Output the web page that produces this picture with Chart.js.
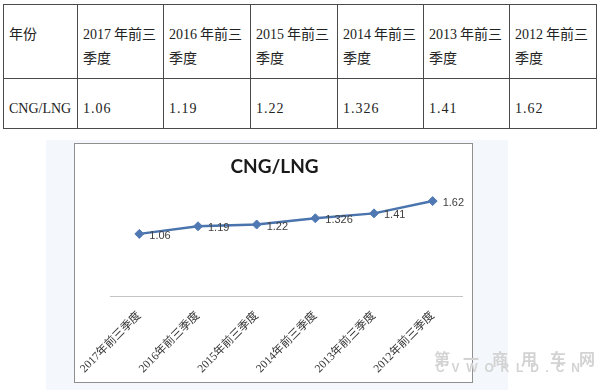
<!DOCTYPE html>
<html>
<head>
<meta charset="utf-8">
<script src="https://cdn.jsdelivr.net/npm/chart.js@4/dist/chart.umd.min.js"></script>
<style>
  html, body { margin:0; padding:0; background:#ffffff; }
  body { width:600px; height:390px; position:relative; overflow:hidden; }
  .cell { position:absolute; box-sizing:border-box; font-family:"Liberation Serif","Noto Sans CJK SC",serif; font-size:14px; line-height:24px; color:#222; padding:19px 0 0 6px; }
  .hl, .vl { position:absolute; background:#4a4a4a; }
  #tint { position:absolute; left:46px; top:140px; width:462px; height:250px; background:#f4f7fb; }
  #box { position:absolute; left:74px; top:143px; width:399px; height:240px; box-sizing:border-box; border:1px solid #8f8f8f; background:#fff; }
  #c { position:absolute; left:1px; top:1px; }
  .wm { position:absolute; color:#d3d3d3; white-space:nowrap; width:200px; }
</style>
</head>
<body>
<div id="tint"></div>
<div id="tbl"></div>
<div id="box"><canvas id="c" width="397" height="238"></canvas></div>
<div class="wm" style="left:434px;top:346px;font-size:16px;letter-spacing:13px;font-weight:bold;font-family:'Noto Sans CJK SC',sans-serif;">第一商用车网</div>
<div class="wm" style="left:436px;top:361px;font-size:12px;font-weight:bold;letter-spacing:6.8px;font-family:'Liberation Sans',sans-serif;">CVWORLD.CN</div>
<script>
// ---- data ----
const headerLabel = "年份";
const seriesName = "CNG/LNG";
const yearLabels = ["2017", "2016", "2015", "2014", "2013", "2012"];
const periodSuffix1 = "年前三";
const periodSuffix2 = "季度";
const categories = ["2017年前三季度", "2016年前三季度", "2015年前三季度", "2014年前三季度", "2013年前三季度", "2012年前三季度"];
const values = [1.06, 1.19, 1.22, 1.326, 1.41, 1.62];
const valueTexts = ["1.06", "1.19", "1.22", "1.326", "1.41", "1.62"];

// ---- table ----
const colX = [3, 77, 163, 250, 337, 423, 509, 596];
const rowY = [4, 78, 128];
const tbl = document.getElementById('tbl');
function addLine(cls, l, t, w, h) {
  const d = document.createElement('div');
  d.className = cls; d.style.left = l + 'px'; d.style.top = t + 'px';
  d.style.width = w + 'px'; d.style.height = h + 'px'; tbl.appendChild(d);
}
rowY.forEach(y => addLine('hl', colX[0], y, colX[colX.length-1] - colX[0] + 1, 1));
colX.forEach(x => addLine('vl', x, rowY[0], 1, rowY[2] - rowY[0] + 1));
function addCell(col, row, html) {
  const d = document.createElement('div');
  d.className = 'cell';
  d.style.left = colX[col] + 'px'; d.style.top = rowY[row] + 'px';
  d.style.width = (colX[col+1] - colX[col]) + 'px';
  d.innerHTML = html; tbl.appendChild(d);
}
addCell(0, 0, headerLabel);
addCell(0, 1, seriesName);
yearLabels.forEach((y, i) => {
  addCell(i + 1, 0, '<span style="margin-right:3px">' + y + '</span>' + periodSuffix1 + '<br>' + periodSuffix2);
  addCell(i + 1, 1, '<span style="letter-spacing:1px">' + valueTexts[i] + '</span>');
});

// ---- chart ----
const valueLabelPlugin = {
  id: 'valueLabels',
  afterDatasetsDraw(chart) {
    const ctx = chart.ctx;
    const meta = chart.getDatasetMeta(0);
    ctx.save();
    ctx.font = '11px "Liberation Sans", sans-serif';
    ctx.fillStyle = '#404040';
    ctx.textAlign = 'left';
    ctx.textBaseline = 'middle';
    meta.data.forEach((pt, i) => {
      ctx.fillText(valueTexts[i], pt.x + 10, pt.y + 2);
    });
    ctx.restore();
  }
};

new Chart(document.getElementById('c'), {
  type: 'line',
  data: {
    labels: categories,
    datasets: [{
      label: seriesName,
      data: values,
      borderColor: '#4a74ad',
      borderWidth: 2.5,
      backgroundColor: '#4f79b5',
      pointStyle: 'rectRot',
      pointRadius: 4.5,
      pointBackgroundColor: '#5079b3',
      pointBorderColor: '#5079b3',
      pointBorderWidth: 1,
      tension: 0,
      fill: false
    }]
  },
  options: {
    responsive: false,
    animation: false,
    layout: { padding: { left: 0, right: 0, top: 0, bottom: 0 } },
    plugins: {
      legend: { display: false },
      tooltip: { enabled: false },
      title: {
        display: true,
        text: seriesName,
        color: '#1a1a1a',
        font: { family: 'Lato, "Liberation Sans", sans-serif', size: 19, weight: 'bold' },
        padding: { top: 10, bottom: 1 }
      }
    },
    scales: {
      x: {
        offset: true,
        grid: { display: false, drawTicks: false },
        border: { display: true, color: '#c4c4c4', width: 1 },
        ticks: {
          minRotation: 45, maxRotation: 45, padding: 13,
          color: '#333333',
          font: { family: '"Liberation Serif", "Noto Sans CJK SC", serif', size: 11.5 }
        },
        afterFit(s) { s.height = 87; s.paddingLeft = 0; s.paddingRight = 0; }
      },
      y: {
        min: 0, max: 2,
        grid: { display: false, drawTicks: false },
        border: { display: false },
        ticks: { display: false },
        afterFit(s) { s.width = 34; }
      },
      yR: {
        position: 'right',
        min: 0, max: 2,
        grid: { display: false, drawTicks: false },
        border: { display: false },
        ticks: { display: false },
        afterFit(s) { s.width = 11; }
      }
    }
  },
  plugins: [valueLabelPlugin]
});
</script>
</body>
</html>
